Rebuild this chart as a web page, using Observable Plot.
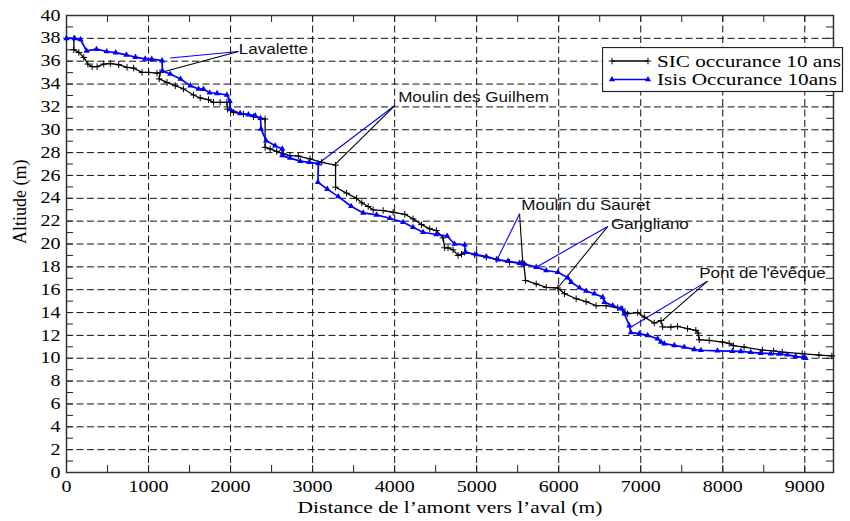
<!DOCTYPE html>
<html><head><meta charset="utf-8">
<script src="https://cdn.jsdelivr.net/npm/d3@7"></script>
<script src="https://cdn.jsdelivr.net/npm/@observablehq/plot@0.6"></script>
<style>
body{margin:0;background:#fff;}
#wrap{position:relative;width:850px;height:521px;}
#legend{position:absolute;left:602px;top:47px;}
</style></head><body><div id="wrap"></div>
<script>
// SIC occurance 10 ans (black, + markers)
const sicDist = [0,90,90,150,211,260,312,373,454,535,637,738,819,921,1002,1103,1140,1130,1225,1326,1427,1549,1630,1731,1792,1873,1955,1963,2035,2157,2279,2421,2421,2482,2563,2644,2725,2826,2968,3111,3280,3280,3414,3536,3600,3678,3739,3860,3982,4124,4225,4327,4428,4509,4590,4610,4651,4712,4773,4815,4854,4976,5118,5240,5401,5544,5575,5596,5726,5848,5990,6071,6213,6334,6456,6578,6719,6780,6841,6963,7044,7165,7247,7267,7368,7449,7571,7672,7700,7713,7835,7997,8078,8130,8260,8483,8620,8726,8969,9173,9330];
const sicAlt = [38.0,38.0,37.0,36.77,36.33,35.75,35.52,35.52,35.75,35.8,35.69,35.46,35.4,35.02,35.02,34.95,35.0,34.45,34.14,33.85,33.57,33.04,32.78,32.63,32.4,32.4,32.4,31.8,31.52,31.38,31.14,30.94,28.46,28.32,28.11,27.88,27.74,27.7,27.45,27.15,26.9,24.97,24.45,24.0,23.6,23.28,22.99,22.93,22.78,22.6,22.2,21.7,21.33,21.18,20.54,19.67,19.67,19.49,19.0,19.1,19.28,19.06,18.85,18.65,18.41,18.3,18.27,16.81,16.5,16.2,16.15,15.65,15.21,14.95,14.6,14.6,14.42,14.3,13.9,14.0,13.6,13.08,13.3,12.75,12.73,12.79,12.59,12.44,12.2,11.62,11.56,11.42,11.3,11.1,10.98,10.72,10.65,10.54,10.4,10.28,10.2];

// Isis Occurance 10ans (blue, triangle markers)
const isisDist = [0,100,170,245,365,490,600,730,840,960,1040,1165,1170,1265,1390,1510,1610,1670,1745,1835,1955,1990,1995,2117,2218,2300,2365,2372,2433,2543,2630,2630,2725,2850,2960,3070,3065,3180,3313,3470,3617,3780,3942,4103,4225,4347,4509,4640,4730,4854,4865,4996,5118,5259,5381,5523,5584,5726,5848,5990,6111,6152,6253,6334,6436,6537,6557,6658,6760,6800,6861,6880,6983,7084,7206,7247,7287,7409,7530,7652,7734,7935,8118,8220,8341,8463,8585,8686,8787,8889,8990,9010];
const isisAlt = [38.0,38.0,37.9,36.9,37.05,36.85,36.75,36.55,36.35,36.2,36.18,36.05,35.15,34.88,34.44,33.86,33.57,33.55,33.24,33.18,33.04,32.5,31.8,31.43,31.32,31.23,31.0,30.07,29.05,28.6,28.32,27.74,27.52,27.25,27.15,27.05,25.4,24.8,24.15,23.3,22.72,22.55,22.25,21.9,21.47,21.03,20.83,20.7,20.0,19.93,19.28,19.08,18.9,18.62,18.5,18.32,18.25,17.97,17.68,17.53,17.05,16.66,16.17,15.88,15.65,15.35,14.91,14.62,14.34,13.9,12.85,12.25,12.15,12.0,11.71,11.42,11.28,11.13,10.98,10.78,10.7,10.65,10.62,10.6,10.52,10.45,10.4,10.38,10.3,10.17,10.05,10.0];

// Site annotations (data coordinates)
const siteNames = ["Lavalette", "Moulin des Guilhem", "Moulin du Sauret", "Gangliano", "Pont de l'évêque"];
const siteLabelDist = [2101, 4043, 5544, 6639, 7713];
const siteLabelAlt = [36.63, 32.4, 22.99, 21.33, 17.05];
const siteAnchorDist = [2096, 4002, 5523, 6598, 7814];
const siteAnchorAlt = [36.85, 32.12, 22.64, 21.53, 16.75];
const siteIsisDist = [1265, 3090, 5260, 5726, 6882];
const siteIsisAlt = [36.28, 27.15, 18.79, 17.97, 12.73];
const siteSicDist = [1184, 3272, 5563, 5990, 7267];
const siteSicAlt = [35.08, 26.95, 18.27, 16.17, 13.31];

// Axes
const xTickValues = [0,1000,2000,3000,4000,5000,6000,7000,8000,9000];
const xGridValues = [1000,2000,3000,4000,5000,6000,7000,8000,9000];
const xMinorValues = d3.range(500, 9350, 500);
const yTickValues = d3.range(0, 41, 2);
const yGridValues = d3.range(2, 40, 2);
const yMinorValues = d3.range(1, 40, 1);
const xLabel = "Distance de l’amont vers l’aval (m)";
const yLabel = "Altiude (m)";
const seriesNames = ["SIC occurance 10 ans", "Isis Occurance 10ans"];

const W = 850, H = 521, mL = 66, mR = 17, mT = 15, mB = 49;
const PW = W - mL - mR, PH = H - mT - mB;

const sic = sicDist.map((d, i) => ({d, a: sicAlt[i]}));
const isis = isisDist.map((d, i) => ({d, a: isisAlt[i]}));
const sites = siteNames.map((name, i) => ({
  name, lx: siteLabelDist[i], ly: siteLabelAlt[i],
  ax: siteAnchorDist[i], ay: siteAnchorAlt[i],
  bx: siteIsisDist[i], by: siteIsisAlt[i],
  kx: siteSicDist[i], ky: siteSicAlt[i]
}));

const plusSym = {draw(ctx, size) {
  const r = Math.sqrt(size / Math.PI);
  ctx.moveTo(-r, 0); ctx.lineTo(r, 0);
  ctx.moveTo(0, -r); ctx.lineTo(0, r);
}};

const gridStyle = {stroke: "#111", strokeOpacity: 1, strokeWidth: 1, strokeDasharray: "7,3.5"};
const tickStyle = {stroke: "#222", strokeWidth: 1};

const chart = Plot.plot({
  width: W, height: H,
  marginLeft: mL, marginRight: mR, marginTop: mT, marginBottom: mB,
  style: {fontFamily: "'Liberation Serif', serif", fontSize: "16px", color: "#000", background: "#fff"},
  x: {domain: [0, 9350]},
  y: {domain: [0, 40]},
  marks: [
    Plot.gridX(xGridValues, gridStyle),
    Plot.gridY(yGridValues, gridStyle),
    Plot.tickY(yMinorValues, {y: d => d, insetRight: PW - 7, ...tickStyle}),
    Plot.tickY(yMinorValues, {y: d => d, insetLeft: PW - 7, ...tickStyle}),
    Plot.tickX(xMinorValues, {x: d => d, insetTop: PH - 7, ...tickStyle}),
    Plot.tickX(xMinorValues, {x: d => d, insetBottom: PH - 7, ...tickStyle}),
    Plot.axisX(xTickValues, {tickSize: 0, tickPadding: 8, label: null, fontSize: 16, tickFormat: d => String(d)}),
    Plot.axisY(yTickValues, {tickSize: 0, tickPadding: 6, label: null, fontSize: 16, tickFormat: d => String(d)}),
    Plot.text([xLabel], {text: d => d, frameAnchor: "bottom", dy: 40, lineAnchor: "bottom", fontSize: 17.2}),
    Plot.text([yLabel], {text: d => d, frameAnchor: "left", dx: -46, rotate: -90, lineAnchor: "middle", fontSize: 18}),
    Plot.frame({stroke: "#333", strokeWidth: 1.5}),
    Plot.link(sites, {x1: "ax", y1: "ay", x2: "bx", y2: "by", stroke: "#0000ff", strokeWidth: 1.1}),
    Plot.link(sites, {x1: "ax", y1: "ay", x2: "kx", y2: "ky", stroke: "#000", strokeWidth: 1.1}),
    Plot.line(sic, {x: "d", y: "a", stroke: "#000", strokeWidth: 1.3, curve: "linear"}),
    Plot.dot(sic, {x: "d", y: "a", symbol: plusSym, r: 3.3, stroke: "#000", fill: "none", strokeWidth: 1}),
    Plot.line(isis, {x: "d", y: "a", stroke: "#0000ff", strokeWidth: 1.7, curve: "linear"}),
    Plot.dot(isis, {x: "d", y: "a", symbol: "triangle", r: 2.3, fill: "#0000ff", stroke: "none"}),
    Plot.text(sites, {x: "lx", y: "ly", text: "name", textAnchor: "start", lineAnchor: "bottom",
      fontFamily: "'Liberation Sans', Arial, sans-serif", fontSize: 15.5, fill: "#111"})
  ]
});

const wrap = document.getElementById("wrap");
wrap.append(chart);

function stretch(t, f) {
  const len = t.getComputedTextLength();
  t.setAttribute("textLength", (len * f).toFixed(2));
  t.setAttribute("lengthAdjust", "spacingAndGlyphs");
}
chart.querySelectorAll("text").forEach(t => {
  if (t.textContent === yLabel) return;
  const ff = getComputedStyle(t).fontFamily;
  stretch(t, /Sans/i.test(ff) ? 1.1 : 1.25);
});

// Legend
const lg = d3.select(wrap).append("svg").attr("id", "legend").attr("width", 246).attr("height", 46);
lg.append("rect").attr("x", 0.5).attr("y", 0.5).attr("width", 240).attr("height", 44)
  .attr("fill", "#fff").attr("stroke", "#222").attr("stroke-width", 1.2);
const rows = [
  {name: seriesNames[0], color: "#000", y: 14, sym: "plus"},
  {name: seriesNames[1], color: "#0000ff", y: 32.5, sym: "tri"}
];
rows.forEach(r => {
  lg.append("line").attr("x1", 10).attr("x2", 46).attr("y1", r.y).attr("y2", r.y)
    .attr("stroke", r.color).attr("stroke-width", r.sym === "tri" ? 1.7 : 1.3);
  [10, 46].forEach(x => {
    if (r.sym === "plus") {
      lg.append("path").attr("d", `M${x-3.3},${r.y}H${x+3.3}M${x},${r.y-3.3}V${r.y+3.3}`).attr("stroke", "#000").attr("fill", "none");
    } else {
      lg.append("path").attr("d", d3.symbol(d3.symbolTriangle, 2.3*2.3*Math.PI)()).attr("transform", `translate(${x},${r.y})`).attr("fill", "#0000ff");
    }
  });
  const t = lg.append("text").attr("x", 55).attr("y", r.y + 5.8)
    .attr("font-family", "'Liberation Serif', serif").attr("font-size", 17.5).attr("fill", "#000").text(r.name);
  stretch(t.node(), 1.21);
});
</script></body></html>
